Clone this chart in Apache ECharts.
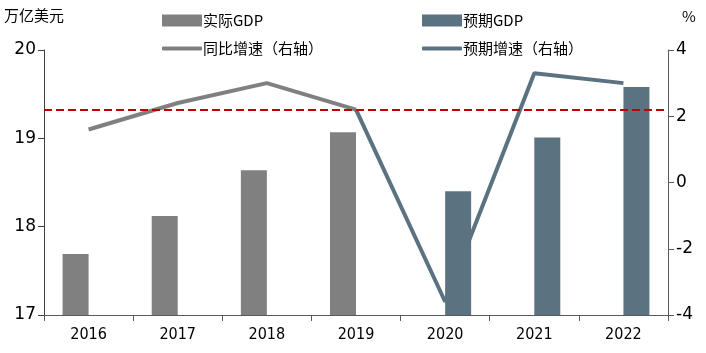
<!DOCTYPE html>
<html>
<head>
<meta charset="utf-8">
<script src="https://cdn.jsdelivr.net/npm/echarts@6/dist/echarts.min.js"></script>
<style>
  html, body { margin: 0; padding: 0; background: #fff; }
  #chart { width: 706px; height: 353px; }
</style>
</head>
<body>
<div id="chart"></div>
<script>
var years = ["2016", "2017", "2018", "2019", "2020", "2021", "2022"];
var actualGdp = [17.69, 18.12, 18.64, 19.07, null, null, null];
var expectedGdp = [null, null, null, null, 18.40, 19.01, 19.58];
var yoyGrowth = [1.6, 2.4, 3.0, 2.2, null, null, null];
var expectedGrowth = [null, null, null, 2.2, -3.6, 3.3, 3.0];
var refLine = 2.2;

var grey = "#808080";
var slate = "#5b7380";
var font = "'Noto Sans CJK SC', 'DejaVu Sans', sans-serif";

var chart = echarts.init(document.getElementById("chart"));

function legendAt(name, left, top, icon) {
  return {
    data: [{ name: name, icon: icon }],
    left: left,
    top: top,
    itemWidth: 40,
    itemHeight: icon === "rect" ? 12 : 4,
    itemGap: 4,
    selectedMode: false,
    textStyle: { fontSize: 15, color: "#000", fontFamily: font, padding: [0, 0, 0, -4] }
  };
}

var option = {
  animation: false,
  textStyle: { fontFamily: font },
  legend: [
    legendAt("实际GDP", 157, 8, "rect"),
    legendAt("预期GDP", 417, 8, "rect"),
    legendAt("同比增速（右轴）", 157, 36, "roundRect"),
    legendAt("预期增速（右轴）", 417, 36, "roundRect")
  ],
  graphic: [
    { type: "text", left: 4, top: 8, style: { text: "万亿美元", font: "15px " + font, fill: "#000" } },
    { type: "text", left: 682, top: 9, style: { text: "%", font: "15px " + font, fill: "#000" } }
  ],
  grid: { left: 44, right: 38, top: 50, bottom: 38 },
  xAxis: {
    type: "category",
    data: years,
    boundaryGap: true,
    axisLine: { onZero: false, lineStyle: { color: "#595959", width: 1 } },
    axisTick: { show: true, length: 6, lineStyle: { color: "#595959" } },
    axisLabel: { color: "#000", fontSize: 16, margin: 12, fontFamily: "'DejaVu Sans Condensed', 'DejaVu Sans', sans-serif" }
  },
  yAxis: [
    {
      type: "value",
      min: 17,
      max: 20,
      interval: 1,
      position: "left",
      splitLine: { show: false },
      axisLine: { show: true, lineStyle: { color: "#404040" } },
      axisTick: { show: true, length: 6, lineStyle: { color: "#404040" } },
      axisLabel: { color: "#000", fontSize: 17, margin: 8, fontFamily: "'DejaVu Sans', sans-serif" }
    },
    {
      type: "value",
      min: -4,
      max: 4,
      interval: 2,
      position: "right",
      splitLine: { show: false },
      axisLine: { show: true, lineStyle: { color: "#595959" } },
      axisTick: { show: true, length: 6, lineStyle: { color: "#595959" } },
      axisLabel: { color: "#000", fontSize: 17, margin: 8, fontFamily: "'DejaVu Sans', sans-serif" }
    }
  ],
  series: [
    {
      name: "实际GDP",
      type: "bar",
      yAxisIndex: 0,
      barWidth: 26,
      barGap: "0%",
      itemStyle: { color: grey },
      data: actualGdp
    },
    {
      name: "预期GDP",
      type: "bar",
      yAxisIndex: 0,
      barWidth: 26,
      barGap: "0%",
      itemStyle: { color: slate },
      data: expectedGdp
    },
    {
      name: "同比增速（右轴）",
      type: "line",
      yAxisIndex: 1,
      showSymbol: false,
      symbol: "none",
      lineStyle: { color: grey, width: 4 },
      itemStyle: { color: grey },
      data: yoyGrowth
    },
    {
      name: "预期增速（右轴）",
      type: "line",
      yAxisIndex: 1,
      showSymbol: false,
      symbol: "none",
      z: 3,
      lineStyle: { color: slate, width: 4 },
      itemStyle: { color: slate },
      data: expectedGrowth,
      markLine: {
        silent: true,
        symbol: "none",
        label: { show: false },
        lineStyle: { color: "#c00000", type: [8, 4], width: 2 },
        data: [{ yAxis: refLine }]
      }
    }
  ]
};

chart.setOption(option);
</script>
</body>
</html>
